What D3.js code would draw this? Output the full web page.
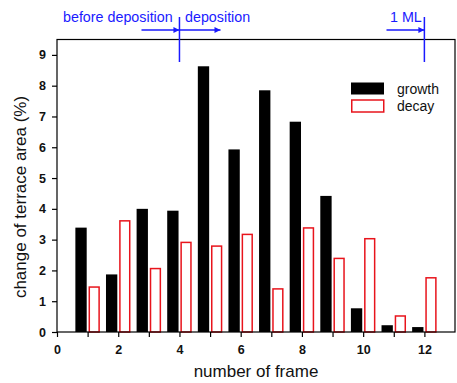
<!DOCTYPE html>
<html>
<head>
<meta charset="utf-8">
<script src="https://cdn.jsdelivr.net/npm/d3@7/dist/d3.min.js"></script>
<style>
  html, body { margin: 0; padding: 0; background: #fff; }
  svg { display: block; font-family: "Liberation Sans", Arial, sans-serif; }
</style>
</head>
<body>
<svg id="chart" width="457" height="383"></svg>
<script>
const frames = [1, 2, 3, 4, 5, 6, 7, 8, 9, 10, 11, 12];
const growth = [3.39, 1.87, 4.00, 3.94, 8.63, 5.93, 7.85, 6.83, 4.42, 0.77, 0.22, 0.16];
const decay  = [1.46, 3.61, 2.06, 2.91, 2.79, 3.17, 1.40, 3.38, 2.39, 3.03, 0.52, 1.76];
const xTicks = [0, 2, 4, 6, 8, 10, 12];
const yTicks = [0, 1, 2, 3, 4, 5, 6, 7, 8, 9];
const markers = [4, 12];

const svg = d3.select("#chart");
const L = 57, R = 455, T = 39.5, B = 332;
const x = d3.scaleLinear().domain([0, 13]).range([L, R]);
const y = d3.scaleLinear().domain([0, 9.5]).range([B, T]);
const blue = "#1a1aff";

// Bars
const bw = 0.37;
svg.append("g").selectAll("rect").data(frames).join("rect")
  .attr("x", (d) => x(d - 0.03 - bw))
  .attr("y", (d, i) => y(growth[i]))
  .attr("width", x(bw) - x(0))
  .attr("height", (d, i) => y(0) - y(growth[i]))
  .attr("fill", "#000");

svg.append("g").selectAll("rect").data(frames).join("rect")
  .attr("x", (d) => x(d + 0.03) + 0.75)
  .attr("y", (d, i) => y(decay[i]))
  .attr("width", x(bw) - x(0) - 1.5)
  .attr("height", (d, i) => y(0) - y(decay[i]))
  .attr("fill", "#fff")
  .attr("stroke", "#e8141c")
  .attr("stroke-width", 1.5);

// Frame
svg.append("rect").attr("x", L).attr("y", T).attr("width", R - L).attr("height", B - T)
  .attr("fill", "none").attr("stroke", "#000").attr("stroke-width", 1.2);

// Axes
svg.append("g").attr("transform", `translate(0,${B})`)
  .call(d3.axisBottom(x).tickValues(xTicks).tickSize(5).tickPadding(8).tickFormat(d3.format("d")));
svg.append("g").attr("transform", `translate(0,${B})`)
  .call(d3.axisBottom(x).tickValues(d3.range(1, 13, 2)).tickSize(5).tickFormat(""));
svg.append("g").attr("transform", `translate(${L},0)`)
  .call(d3.axisLeft(y).tickValues(yTicks).tickSize(5).tickPadding(6).tickFormat(d3.format("d")));
svg.selectAll(".domain").remove();
svg.selectAll(".tick line").attr("stroke", "#000").attr("stroke-width", 1.2);
svg.selectAll(".tick text").attr("font-size", 12.5).attr("fill", "#111")
  .attr("font-family", "Liberation Sans, Arial, sans-serif").attr("font-weight", "bold");

// Axis labels
svg.append("text").attr("x", (L + R) / 2).attr("y", 377).attr("text-anchor", "middle")
  .attr("font-size", 17).attr("fill", "#111").text("number of frame");
svg.append("text").attr("transform", `translate(26,197) rotate(-90)`).attr("text-anchor", "middle")
  .attr("font-size", 17).attr("fill", "#111").text("change of terrace area (%)");

// Legend
svg.append("rect").attr("x", 351).attr("y", 82.5).attr("width", 33).attr("height", 12).attr("fill", "#000");
svg.append("rect").attr("x", 351.75).attr("y", 100).attr("width", 32).attr("height", 12)
  .attr("fill", "#fff").attr("stroke", "#e8141c").attr("stroke-width", 1.5);
svg.append("text").attr("x", 397).attr("y", 93.5).attr("font-size", 14).attr("fill", "#111").text("growth");
svg.append("text").attr("x", 397).attr("y", 110.5).attr("font-size", 14).attr("fill", "#111").text("decay");

// Blue annotations
const defs = svg.append("defs");
defs.append("marker").attr("id", "arr").attr("viewBox", "0 0 10 10").attr("refX", 10).attr("refY", 5)
  .attr("markerWidth", 7).attr("markerHeight", 6).attr("markerUnits", "userSpaceOnUse").attr("orient", "auto")
  .append("path").attr("d", "M0,0 L10,5 L0,10 z").attr("fill", blue);

svg.append("g").selectAll("line").data(markers).join("line")
  .attr("x1", (d) => x(d)).attr("x2", (d) => x(d)).attr("y1", 17).attr("y2", 62)
  .attr("stroke", blue).attr("stroke-width", 1.5);

const arrows = [[141.5, x(4)], [x(4), 220.5], [386.5, x(12)]];
svg.append("g").selectAll("line").data(arrows).join("line")
  .attr("x1", (d) => d[0]).attr("x2", (d) => d[1]).attr("y1", 30).attr("y2", 30)
  .attr("stroke", blue).attr("stroke-width", 1.5).attr("marker-end", "url(#arr)");

svg.append("text").attr("x", 63).attr("y", 21.5).attr("font-size", 14.3).attr("fill", blue).text("before deposition");
svg.append("text").attr("x", 185).attr("y", 21.5).attr("font-size", 14.3).attr("fill", blue).text("deposition");
svg.append("text").attr("x", 390).attr("y", 21.5).attr("font-size", 14.3).attr("fill", blue).text("1 ML");
</script>
</body>
</html>
